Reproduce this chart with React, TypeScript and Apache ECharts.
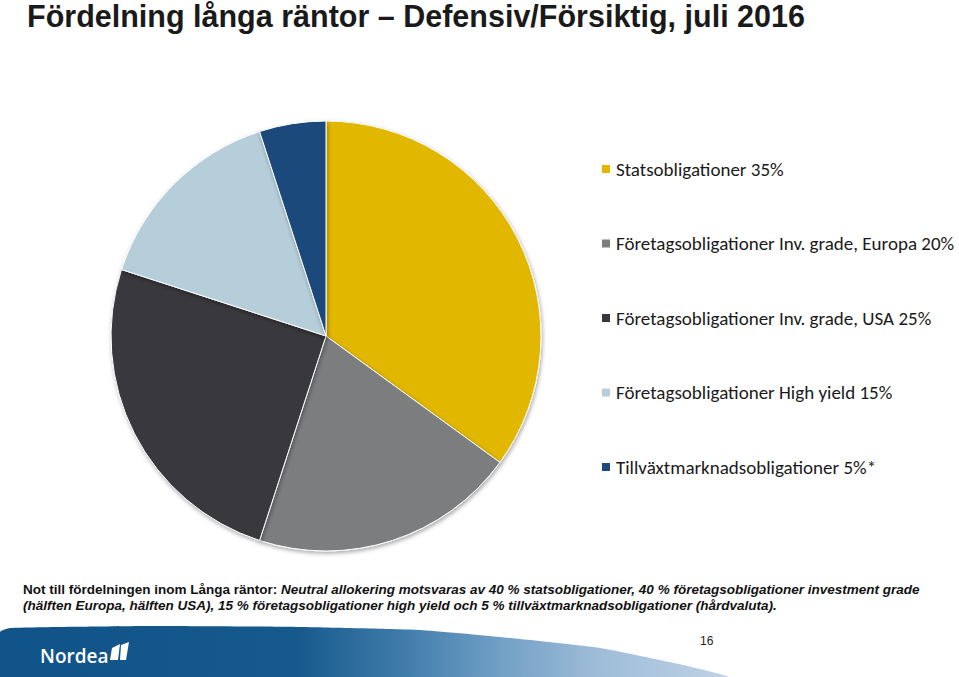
import React, { useEffect, useRef } from "react";
import * as echarts from "echarts";

const categories = [
  "Statsobligationer 35%",
  "Företagsobligationer Inv. grade, Europa 20%",
  "Företagsobligationer Inv. grade, USA 25%",
  "Företagsobligationer High yield 15%",
  "Tillväxtmarknadsobligationer 5%*",
];
const values = [35, 20, 25, 15, 5];
const colors = ["#E2B700", "#7C7D7F", "#38383C", "#B5CEDA", "#1E497C"];

const titleText = "Fördelning långa räntor – Defensiv/Försiktig, juli 2016";
const noteBold = "Not till fördelningen inom Långa räntor: ";
const noteItalic1 =
  "Neutral allokering motsvaras av 40 % statsobligationer, 40 % företagsobligationer investment grade";
const noteItalic2 =
  "(hälften Europa, hälften USA), 15 % företagsobligationer high yield och 5 % tillväxtmarknadsobligationer (hårdvaluta).";
const pageNumber = "16";
const logoText = "Nordea";

export default function App() {
  const ref = useRef<HTMLDivElement>(null);
  useEffect(() => {
    document.body.style.margin = "0";
    const chart = echarts.init(ref.current!, undefined, { renderer: "svg" });
    const sans = '"Liberation Sans", Arial, sans-serif';
    chart.setOption({
      animation: false,
      backgroundColor: "#ffffff",
      legend: {
        orient: "vertical",
        left: 600,
        top: 158,
        padding: 0,
        icon: "rect",
        itemWidth: 10,
        itemHeight: 10,
        itemGap: 52.5,
        selectedMode: false,
        textStyle: {
          fontFamily: "Carlito, Lato, sans-serif",
          fontSize: 19,
          color: "#1a1a1a",
          lineHeight: 22,
        },
        data: categories,
      },
      series: [
        {
          type: "pie",
          center: [326, 336],
          radius: 215,
          startAngle: 90,
          clockwise: true,
          label: { show: false },
          labelLine: { show: false },
          emphasis: { disabled: true },
          itemStyle: {
            borderColor: "#ffffff",
            borderWidth: 1,
            shadowBlur: 4,
            shadowOffsetX: 1,
            shadowOffsetY: 2,
            shadowColor: "rgba(0,0,0,0.35)",
          },
          data: categories.map((c, i) => ({
            name: c,
            value: values[i],
            itemStyle: { color: colors[i] },
          })),
        },
      ],
      graphic: [
        {
          type: "text",
          left: 27,
          top: 0,
          style: {
            text: titleText,
            font: `bold 30.5px ${sans}`,
            fill: "#1a1a1a",
          },
        },
        {
          type: "text",
          left: 23,
          top: 582,
          style: {
            text: `{b|${noteBold}}{i|${noteItalic1}}\n{i|${noteItalic2}}`,
            rich: {
              b: { font: `bold 13.5px ${sans}`, fill: "#111", lineHeight: 16 },
              i: { font: `italic bold 13.5px ${sans}`, fill: "#111", lineHeight: 16 },
            },
          },
        },
        {
          type: "polygon",
          shape: {
            points: [
              [0, 632],
              [10, 628],
              [150, 626],
              [300, 627],
              [420, 630],
              [500, 637],
              [600, 648],
              [683, 665],
              [728, 677],
              [0, 677],
            ],
            smooth: 0.15,
          },
          style: {
            fill: new echarts.graphic.LinearGradient(0, 0, 1, 0, [
              { offset: 0, color: "#0F5389" },
              { offset: 0.41, color: "#17598C" },
              { offset: 0.55, color: "#3E7BAA" },
              { offset: 0.69, color: "#72A0C6" },
              { offset: 0.82, color: "#9EBCD8" },
              { offset: 1, color: "#BFD3E6" },
            ]),
          },
        },
        {
          type: "text",
          left: 40,
          top: 646,
          style: {
            text: logoText,
            font: `600 19px "Open Sans", sans-serif`,
            fill: "#ffffff",
          },
        },
        {
          type: "polygon",
          shape: { points: [[112, 648], [120, 644], [118, 660], [110, 660]] },
          style: { fill: "#ffffff" },
        },
        {
          type: "polygon",
          shape: { points: [[121, 645], [129, 642], [126, 660], [120, 660]] },
          style: { fill: "#ffffff" },
        },
        {
          type: "text",
          left: 700,
          top: 635,
          style: {
            text: pageNumber,
            font: `12px ${sans}`,
            fill: "#222",
          },
        },
      ],
    });
    return () => chart.dispose();
  }, []);
  return (
    <div
      ref={ref}
      style={{ position: "absolute", left: 0, top: 0, width: 959, height: 677 }}
    />
  );
}
